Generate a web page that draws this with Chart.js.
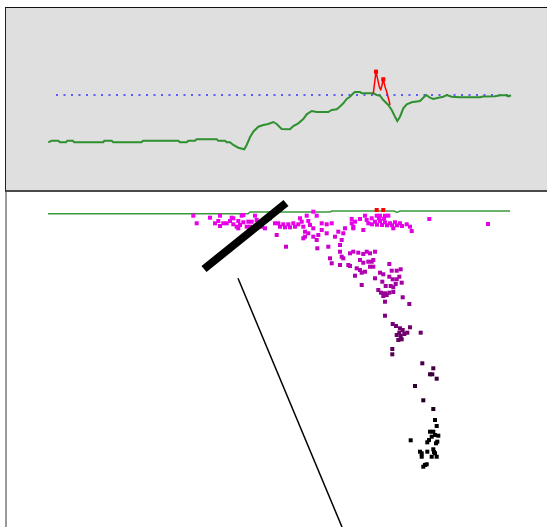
<!DOCTYPE html>
<html lang="en">
<head>
  <meta charset="UTF-8">
  <title>Level and depth profile</title>
  <script src="https://cdn.jsdelivr.net/npm/chart.js"></script>
  <style>
    body { margin: 0; background: #fff; width: 547px; height: 527px; overflow: hidden; position: relative; }
    #topPanel { position: absolute; left: 5px; top: 7px; width: 560px; height: 182px; background: #dfdfdf;
                border-top: 1px solid #111; border-left: 1px solid #222; border-bottom: 2px solid #4a4a4a; }
    #leftRule { position: absolute; left: 5px; top: 192px; width: 2px; height: 335px; background: #999; }
    canvas { position: absolute; left: 0; }
  </style>
</head>
<body>
  <div id="topPanel"></div>
  <div id="leftRule"></div>
  <canvas id="levelChart" width="547" height="192" style="top:0"></canvas>
  <canvas id="depthChart" width="547" height="335" style="top:192px"></canvas>

  <script>
    // top panel: level over time
    const topT = [0.3, 3.7, 10.3, 12, 18, 19.3, 24.7, 26.3, 55.3, 56.3, 63.7, 65.3, 93.5, 95, 130.3, 132, 138.7, 140.3, 147, 148.5,
      168.7, 170.3, 177, 178.7, 182, 185.3, 190.3, 196.3, 198.7, 202, 205.3, 210.3, 215.3, 220.3, 225.3, 228.7, 233.7, 242, 245.3, 250.3,
      255.3, 258.7, 263.7, 268.7, 280.3, 283.7, 288.7, 292, 295.3, 298.7, 302, 305.3, 307, 312, 313.7, 325.3, 328.7, 332, 335.3, 340.3,
      343.7, 347, 349.3, 352, 355.3, 358.7, 363.7, 372, 375.3, 378, 382, 385.3, 390.3, 395.3, 398.7, 403.7, 412, 432, 435, 447,
      452.5, 458, 460.5, 463];
    const topLevel = [47.7, 49.3, 49.3, 47.7, 47.7, 49.3, 49.3, 47.7, 47.7, 49.3, 49.3, 47.7, 47.7, 49.3, 49.3, 47.7, 47.7, 49.3, 49.3, 50.7,
      50.7, 49.3, 49.3, 47.7, 47.7, 45, 42.3, 40.7, 45, 52.7, 58.3, 63.3, 65, 66, 68, 66, 61, 60.7, 64, 66.7,
      71, 75.7, 79, 78, 78, 80, 80.7, 83.5, 86.7, 91, 93.3, 96.7, 98, 98, 96.7, 96.7, 95, 94.3, 90, 85,
      80, 73.3, 69, 73.3, 81.7, 85.7, 87.7, 89, 92.3, 95, 92.3, 91, 92.3, 93.3, 95, 93.3, 92.7, 92.7, 93.5, 93.7,
      94.7, 94.7, 93.7, 94.7];
    const redT = [325.3, 328, 329.3, 331.3, 332.7, 334, 335.3, 337, 338.7, 341.3, 342];
    const redLevel = [96.7, 118.3, 112.3, 103.3, 100, 105, 110.7, 103.3, 98.3, 88.3, 85];
    const refT = [8, 462];
    const refLevel = [95, 95];

    // bottom panel: depth over time
    const surfT = [0, 200, 202, 282, 284, 346, 349, 352, 462];
    const surfDepth = [1.8, 1.8, 0, 0, -1, -1, 0.5, -1, -1];
    const flagT = [328.7, 335.3];
    const flagDepth = [-2, -2];
    const barT = [156, 238];
    const barDepth = [57, -9];
    const wireT = [190, 294];
    const wireDepth = [66.3, 315];

    const bandT = [145.3, 162, 172, 183.7, 193.7, 207, 258.7, 265.3, 268.7, 303.7, 312, 317, 328.7, 332, 337, 340.3, 381.3, 440,
      148.7, 167, 170.3, 175.3, 178.7, 182, 185.3, 190.3, 192, 190.3, 195.3, 198.7, 203.7, 208.7, 213.7, 217, 227, 230.3, 235.3, 240.3,
      245.3, 250.3, 253.7, 252, 260.3, 262, 265.3, 273.7, 278.7, 283.7, 303.7, 305.3, 307, 318.7, 323.7, 327, 332, 337, 342, 347,
      352, 358.7, 362, 363.7, 200.3, 202, 222, 257, 257, 255.3, 195.3,
      172, 185.3, 188.7, 232, 237, 242, 247, 320.3, 324, 329, 334, 339, 344, 349, 354, 331, 336];
    const bandDepth = [3.7, 5.7, 3.7, 5.7, 3.7, 3.7, 3.7, -0.3, 3.7, 7, 7, 3.7, 3.7, 3.7, 3.7, 3.7, 7, 12,
      11.3, 11.3, 9, 11.3, 11.3, 9, 6.3, 9, 13, 16.3, 10.3, 14.7, 9.7, 8, 14.7, 16.3, 11.3, 11.3, 12.3, 12.3,
      11.3, 12.3, 9.7, 6.3, 9, 13, 16.3, 11.3, 12.3, 11.3, 11.3, 14.7, 9.7, 8, 6.3, 9.7, 9, 10.3, 11.3, 10.3,
      11.3, 12.3, 14.7, 19, 9.7, 14.7, 6.3, 19.7, 24.7, 14.7, 3,
      14, 12.3, 14.7, 14.7, 15.3, 15.3, 14.7, 11.3, 12.3, 12.7, 13, 13.3, 13.3, 13.3, 14, 6.3, 6.7];
    const slopeT = [228.7, 238, 255.3, 260.3, 265.3, 268.7, 270.3, 273.7, 278.7, 269.3, 280.3, 287, 290.3, 295.3, 297, 293.7, 292,
      305.3, 315.3, 345.3, 282, 283.7, 292, 293.7, 295.3, 292, 300.3];
    const slopeDepth = [23, 34.7, 26.3, 21.3, 24.7, 28, 23, 18, 21.3, 36.3, 34.7, 24.7, 19.7, 21.3, 16.3, 28, 33,
      16.3, 18, 16.3, 46.3, 51.3, 39.7, 44.7, 46.3, 53, 53];
    const plumeT = [302, 305.3, 310.3, 315.3, 318.7, 322, 327, 312, 315.3, 320.3, 323.7, 325.3, 302, 308.7, 312, 313.7, 317, 322,
      325.3, 307, 313.7, 327, 332, 335.3, 341.3, 343.7, 348.7, 352.7, 341.3, 344.7, 348.7, 351.3, 353.7, 334.3, 337.7, 342.7,
      345.3, 347.7, 330.3, 333, 337, 341.3, 345.3, 335.3, 338.7, 337, 354.7, 361.3, 337, 344.7, 348, 352, 354.7, 351.3, 356.3,
      348.7, 352.7, 359.3, 362, 350.3, 353.7, 372.7];
    const plumeDepth = [41.3, 39.7, 40.7, 42, 39.7, 41.3, 39.7, 48, 50.7, 49.7, 49.7, 48, 54, 56.3, 58, 60.7, 59.7, 54.7,
      54.7, 63.7, 73, 66.3, 60.7, 62.3, 52, 58.7, 58.7, 57.3, 64.7, 67.3, 67.3, 64.7, 70.7, 69.7, 74, 74,
      75.3, 72, 78, 80.7, 81.3, 80.7, 80, 84, 83, 89.7, 85.3, 92, 103.7, 112, 114, 116.3, 118, 120.7, 122,
      123, 124, 120.7, 115.3, 128, 127.3, 120.7];
    const tailT = [344.3, 344.3, 374.3, 385.3, 382, 384.3, 388.7, 367, 375.3, 385.3, 387, 388.7, 382, 385.3, 387, 390.3, 383.7,
      362.7, 381, 379.3, 389.3, 388, 372, 373.7, 379.3, 385.3, 387, 373.7, 383.7, 388.7, 386, 377, 375.3, 378.7];
    const tailDepth = [137, 142.3, 151.3, 156.3, 162.3, 162.3, 166.7, 174, 188.3, 197, 208, 214, 219.7, 219.7, 223, 223.7, 224.7,
      228.3, 228, 230.3, 229.7, 231.3, 239.7, 241.3, 239.7, 237.3, 241.3, 244.7, 244.7, 244.7, 240, 253, 254.7, 252.3];

    const pairs = (xs, ys) => xs.map((x, i) => ({ x: x, y: ys[i] }));

    // magenta fading to black with depth
    function depthColor(d) {
      const v = Math.max(0, Math.round(245 * (1 - d / 215)));
      return 'rgb(' + v + ',0,' + v + ')';
    }

    function isPeak(ctx) {
      const i = ctx.dataIndex;
      return i > 0 && i < redLevel.length - 1 && redLevel[i] > redLevel[i - 1] && redLevel[i] > redLevel[i + 1];
    }

    const baseOptions = {
      responsive: false,
      animation: false,
      events: [],
      layout: { padding: 0, autoPadding: false },
      plugins: { legend: { display: false }, tooltip: { enabled: false } }
    };

    new Chart(document.getElementById('levelChart'), {
      type: 'scatter',
      data: {
        datasets: [{
          data: pairs(redT, redLevel),
          showLine: true,
          borderColor: '#ff0000',
          borderWidth: 1.5,
          borderJoinStyle: 'round',
          pointStyle: 'rect',
          pointRadius: ctx => isPeak(ctx) ? 2.9 : 0,
          pointBackgroundColor: '#ff0000',
          pointBorderWidth: 0
        }, {
          data: pairs(topT, topLevel),
          showLine: true,
          borderColor: '#2e902e',
          borderWidth: 2,
          pointRadius: 0
        }, {
          data: pairs(refT, refLevel),
          showLine: true,
          borderColor: '#5a5aff',
          borderWidth: 2,
          borderDash: [2, 5.5],
          pointRadius: 0
        }]
      },
      options: Object.assign({}, baseOptions, {
        scales: {
          x: { type: 'linear', display: false, min: -48, max: 499 },
          y: { display: false, min: -2, max: 190 }
        }
      })
    });

    const allT = bandT.concat(slopeT, plumeT, tailT);
    const allDepth = bandDepth.concat(slopeDepth, plumeDepth, tailDepth);

    new Chart(document.getElementById('depthChart'), {
      type: 'scatter',
      data: {
        datasets: [{
          data: pairs(wireT, wireDepth),
          showLine: true,
          borderColor: '#000',
          borderWidth: 1.5,
          pointRadius: 0
        }, {
          data: pairs(barT, barDepth),
          showLine: true,
          borderColor: '#000',
          borderWidth: 8,
          pointRadius: 0
        }, {
          data: pairs(flagT, flagDepth),
          pointStyle: 'rect',
          pointRadius: 2.85,
          pointBackgroundColor: '#ff0000',
          pointBorderWidth: 0
        }, {
          data: pairs(allT, allDepth),
          pointStyle: 'rect',
          pointRadius: 2.85,
          pointBackgroundColor: ctx => depthColor(ctx.raw ? ctx.raw.y : 0),
          pointBorderWidth: 0
        }, {
          data: pairs(surfT, surfDepth),
          showLine: true,
          borderColor: '#3a9a3a',
          borderWidth: 1.5,
          pointRadius: 0
        }]
      },
      options: Object.assign({}, baseOptions, {
        scales: {
          x: { type: 'linear', display: false, min: -48, max: 499 },
          y: { display: false, reverse: true, min: -20, max: 315 }
        }
      })
    });
  </script>
</body>
</html>
